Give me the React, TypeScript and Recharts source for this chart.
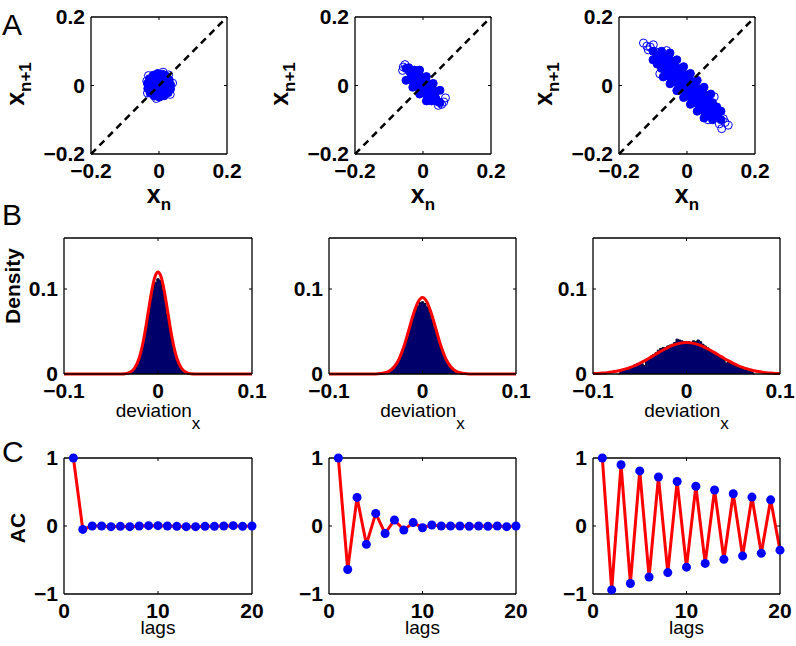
import React from "react";
import { Area, ComposedChart, Label, Line, ReferenceLine, Scatter, XAxis, YAxis } from "recharts";

const W = 796;
const H = 646;

// ---- row A: x(n+1) against x(n). "core" points are drawn filled, "ring" points (outliers) open
const coreA1 = [
  [0, 0], [0.015, 0], [-0.015, 0], [0, 0.015], [0, -0.015],
  [0.011, 0.011], [-0.011, 0.011], [0.011, -0.011], [-0.011, -0.011],
  [0.026, 0.005], [-0.026, -0.004], [0.005, 0.026], [-0.004, -0.026],
  [0.02, 0.017], [-0.019, 0.018], [0.018, -0.02], [-0.02, -0.017],
  [0.034, 0.002], [0.03, 0.016], [0.022, 0.027], [0.01, 0.033], [-0.004, 0.035],
  [-0.017, 0.03], [-0.028, 0.02], [-0.034, 0.006], [-0.033, -0.009], [-0.026, -0.022],
  [-0.014, -0.031], [0.001, -0.034], [0.015, -0.03], [0.027, -0.021], [0.034, -0.01],
];
const ringA1 = [
  [0.04, 0.007], [-0.036, 0.013], [0.012, 0.039], [-0.008, -0.038], [0.033, -0.026],
  [-0.031, 0.029], [0.028, 0.031], [-0.034, -0.022],
];
const coreA2 = [
  [-0.05, 0.05], [-0.0375, 0.0375], [-0.025, 0.025], [-0.0125, 0.0125], [0, 0],
  [0.0125, -0.0125], [0.025, -0.025], [0.0375, -0.0375], [0.05, -0.05],
  [-0.025, 0.045], [-0.0125, 0.0325], [0, 0.02], [0.0125, 0.0075], [0.025, -0.005], [0.0375, -0.0175],
  [-0.0375, 0.0175], [-0.025, 0.005], [-0.0125, -0.0075], [0, -0.02], [0.0125, -0.0325], [0.025, -0.045],
  [-0.01, 0.045], [0.01, 0.026], [0.03, 0.006], [0.05, -0.014],
  [-0.05, 0.015], [-0.03, -0.005], [-0.01, -0.025], [0.01, -0.045],
  [-0.035, 0.035], [0.035, -0.033], [-0.042, 0.052], [0.045, -0.048],
];
const ringA2 = [
  [-0.053, 0.061], [-0.06, 0.044], [-0.058, 0.054],
  [0.061, -0.048], [0.045, -0.058], [0.066, -0.036], [0.055, -0.055],
];
const coreA3 = [
  [-0.1, 0.1], [-0.0875, 0.0875], [-0.075, 0.075], [-0.0625, 0.0625], [-0.05, 0.05],
  [-0.0375, 0.0375], [-0.025, 0.025], [-0.0125, 0.0125], [0, 0], [0.0125, -0.0125],
  [0.025, -0.025], [0.0375, -0.0375], [0.05, -0.05], [0.0625, -0.0625], [0.075, -0.075],
  [0.0875, -0.0875], [0.1, -0.1],
  [-0.075, 0.1], [-0.0625, 0.0875], [-0.05, 0.075], [-0.0375, 0.0625], [-0.025, 0.05],
  [-0.0125, 0.0375], [0, 0.025], [0.0125, 0.0125], [0.025, 0], [0.0375, -0.0125],
  [0.05, -0.025], [0.0625, -0.0375], [0.075, -0.05], [0.0875, -0.0625], [0.1, -0.075],
  [-0.1, 0.075], [-0.0875, 0.0625], [-0.075, 0.05], [-0.0625, 0.0375], [-0.05, 0.025],
  [-0.0375, 0.0125], [-0.025, 0], [-0.0125, -0.0125], [0, -0.025], [0.0125, -0.0375],
  [0.025, -0.05], [0.0375, -0.0625], [0.05, -0.075], [0.0625, -0.0875], [0.075, -0.1],
  [-0.05, 0.095], [-0.03, 0.075], [-0.01, 0.055], [0.01, 0.035], [0.03, 0.015], [0.05, -0.005], [0.07, -0.025],
  [-0.07, 0.025], [-0.05, 0.005], [-0.03, -0.015], [-0.01, -0.035], [0.01, -0.055], [0.03, -0.075], [0.05, -0.095],
];
const ringA3 = [
  [-0.128, 0.124], [-0.099, 0.119], [-0.114, 0.104], [-0.094, 0.099], [-0.108, 0.112], [-0.118, 0.115],
  [0.107, -0.097], [0.102, -0.126], [0.121, -0.116], [0.086, -0.087], [0.112, -0.108], [0.095, -0.112],
  [-0.06, 0.102], [0.08, -0.033], [-0.08, 0.034], [0.062, -0.1],
];
const diagonal = [[-0.2, -0.2], [0.2, 0.2]];

// ---- row B: histogram bins [centre, density] and fitted curve [x, density]
const histB1 = [
  [-0.0325, 0], [-0.03, 0.001], [-0.0275, 0.003], [-0.025, 0.006], [-0.0225, 0.011], [-0.02, 0.017],
  [-0.0175, 0.027], [-0.015, 0.04], [-0.0125, 0.055], [-0.01, 0.071], [-0.0075, 0.088], [-0.005, 0.101],
  [-0.0025, 0.108], [0, 0.112], [0.0025, 0.11], [0.005, 0.1], [0.0075, 0.087], [0.01, 0.07],
  [0.0125, 0.054], [0.015, 0.039], [0.0175, 0.026], [0.02, 0.017], [0.0225, 0.01], [0.025, 0.005],
  [0.0275, 0.003], [0.03, 0.001], [0.0325, 0],
];
const fitB1 = [
  [-0.1, 0], [-0.045, 0], [-0.04, 0.0001], [-0.035, 0.0004], [-0.03, 0.0019], [-0.025, 0.0067],
  [-0.02, 0.0189], [-0.0175, 0.0291], [-0.015, 0.0424], [-0.0125, 0.0583], [-0.01, 0.0756],
  [-0.0075, 0.0925], [-0.005, 0.107], [-0.0025, 0.1166], [0, 0.12], [0.0025, 0.1166], [0.005, 0.107],
  [0.0075, 0.0925], [0.01, 0.0756], [0.0125, 0.0583], [0.015, 0.0424], [0.0175, 0.0291], [0.02, 0.0189],
  [0.025, 0.0067], [0.03, 0.0019], [0.035, 0.0004], [0.04, 0.0001], [0.045, 0], [0.1, 0],
];
const histB2 = [
  [-0.0425, 0], [-0.04, 0.001], [-0.0375, 0.002], [-0.035, 0.003], [-0.0325, 0.005], [-0.03, 0.008],
  [-0.0275, 0.012], [-0.025, 0.017], [-0.0225, 0.023], [-0.02, 0.03], [-0.0175, 0.038], [-0.015, 0.047],
  [-0.0125, 0.057], [-0.01, 0.066], [-0.0075, 0.074], [-0.005, 0.08], [-0.0025, 0.084], [0, 0.085],
  [0.0025, 0.083], [0.005, 0.079], [0.0075, 0.073], [0.01, 0.065], [0.0125, 0.056], [0.015, 0.048],
  [0.0175, 0.038], [0.02, 0.03], [0.0225, 0.022], [0.025, 0.016], [0.0275, 0.011], [0.03, 0.008],
  [0.0325, 0.005], [0.035, 0.003], [0.0375, 0.002], [0.04, 0.001], [0.0425, 0],
];
const fitB2 = [
  [-0.1, 0], [-0.055, 0], [-0.05, 0.0001], [-0.045, 0.0005], [-0.04, 0.0014], [-0.035, 0.0038],
  [-0.03, 0.0088], [-0.025, 0.0179], [-0.02, 0.032], [-0.015, 0.0503], [-0.01, 0.0695], [-0.005, 0.0843],
  [0, 0.09], [0.005, 0.0843], [0.01, 0.0695], [0.015, 0.0503], [0.02, 0.032], [0.025, 0.0179],
  [0.03, 0.0088], [0.035, 0.0038], [0.04, 0.0014], [0.045, 0.0005], [0.05, 0.0001], [0.055, 0], [0.1, 0],
];
const histB3 = [
  [-0.0725, 0], [-0.07, 0.004], [-0.0675, 0.005], [-0.065, 0.006], [-0.0625, 0.006], [-0.06, 0.008],
  [-0.0575, 0.009], [-0.055, 0.011], [-0.0525, 0.012], [-0.05, 0.013], [-0.0475, 0.012], [-0.045, 0.01],
  [-0.0425, 0.016], [-0.04, 0.019], [-0.0375, 0.021], [-0.035, 0.023], [-0.0325, 0.025], [-0.03, 0.028],
  [-0.0275, 0.03], [-0.025, 0.031], [-0.0225, 0.031], [-0.02, 0.033], [-0.0175, 0.034], [-0.015, 0.035],
  [-0.0125, 0.037], [-0.01, 0.041], [-0.0075, 0.04], [-0.005, 0.039], [-0.0025, 0.038], [0, 0.037],
  [0.0025, 0.038], [0.005, 0.036], [0.0075, 0.039], [0.01, 0.038], [0.0125, 0.04], [0.015, 0.038],
  [0.0175, 0.035], [0.02, 0.033], [0.0225, 0.031], [0.025, 0.027], [0.0275, 0.025], [0.03, 0.024],
  [0.0325, 0.022], [0.035, 0.021], [0.0375, 0.019], [0.04, 0.017], [0.0425, 0.013], [0.045, 0.014],
  [0.0475, 0.012], [0.05, 0.011], [0.0525, 0.01], [0.055, 0.008], [0.0575, 0.007], [0.06, 0.006],
  [0.0625, 0.005], [0.065, 0.004], [0.0675, 0.003], [0.07, 0.003], [0.0725, 0],
];
const fitB3 = [
  [-0.1, 0.0005], [-0.095, 0.0007], [-0.09, 0.0011], [-0.085, 0.0016], [-0.08, 0.0023], [-0.075, 0.0032],
  [-0.07, 0.0044], [-0.065, 0.006], [-0.06, 0.0078], [-0.055, 0.01], [-0.05, 0.0126], [-0.045, 0.0154],
  [-0.04, 0.0185], [-0.035, 0.0218], [-0.03, 0.0251], [-0.025, 0.0282], [-0.02, 0.0311], [-0.015, 0.0336],
  [-0.01, 0.0354], [-0.005, 0.0366], [0, 0.037], [0.005, 0.0366], [0.01, 0.0354], [0.015, 0.0336],
  [0.02, 0.0311], [0.025, 0.0282], [0.03, 0.0251], [0.035, 0.0218], [0.04, 0.0185], [0.045, 0.0154],
  [0.05, 0.0126], [0.055, 0.01], [0.06, 0.0078], [0.065, 0.006], [0.07, 0.0044], [0.075, 0.0032],
  [0.08, 0.0023], [0.085, 0.0016], [0.09, 0.0011], [0.095, 0.0007], [0.1, 0.0005],
];

// ---- row C: autocorrelation by lag
const lags = [1, 2, 3, 4, 5, 6, 7, 8, 9, 10, 11, 12, 13, 14, 15, 16, 17, 18, 19, 20];
const acC1 = [1, -0.05, 0, 0, -0.01, -0.005, -0.01, 0, 0.005, 0.005, 0, -0.005, -0.01, -0.01, -0.005, -0.005, 0, 0.005, -0.005, 0];
const acC2 = [1, -0.64, 0.42, -0.27, 0.185, -0.11, 0.088, -0.06, 0.05, -0.025, 0.015, 0, 0, 0, -0.005, 0, -0.005, 0, -0.01, 0];
const acC3 = [1, -0.94, 0.9, -0.845, 0.81, -0.75, 0.72, -0.685, 0.655, -0.605, 0.585, -0.55, 0.53, -0.49, 0.475, -0.44, 0.425, -0.4, 0.385, -0.355];

// ---- axes
const scatterTicks = [-0.2, 0, 0.2];
const histXTicks = [-0.1, 0, 0.1];
const histYTicks = [0, 0.1];
const lagTicks = [0, 10, 20];
const acTicks = [-1, 0, 1];

type Box = { left: number; top: number; width: number; height: number };

const colLeftA = [91, 355, 619];
const colLeftBC = [64, 329, 593];
const widthBC = [188, 187, 187];

const BLUE = "#0000ff";
const RED = "#ff0000";
const SANS = "Liberation Sans, Arial, sans-serif";

const pts = (a: number[][]) => a.map(([x, y]) => ({ x, y }));
const fmt = (v: number) => (v < 0 ? "\u2212" + Math.abs(v) : String(v));
const tickStyle = { fontFamily: SANS, fontWeight: 700, fontSize: 21, fill: "#000" };

const fillDot = (p: any) => <circle cx={p.cx} cy={p.cy} r={4} fill={BLUE} stroke={BLUE} strokeWidth={1} />;
const ringDot = (p: any) => <circle cx={p.cx} cy={p.cy} r={4} fill="none" stroke={BLUE} strokeWidth={1} />;

// top/right box sides plus inward ticks on all four sides (matlab style)
function frame(xd: number[], yd: number[], xt: number[], yt: number[], box: Box) {
  const lx = (3 / box.width) * (xd[1] - xd[0]);
  const ly = (3 / box.height) * (yd[1] - yd[0]);
  const out = [
    <ReferenceLine key="top" y={yd[1]} stroke="#000" strokeWidth={1.3} />,
    <ReferenceLine key="right" x={xd[1]} stroke="#000" strokeWidth={1.3} />,
  ];
  xt.filter((v) => v > xd[0] && v < xd[1]).forEach((v) => {
    out.push(<ReferenceLine key={"xb" + v} segment={[{ x: v, y: yd[0] }, { x: v, y: yd[0] + ly }]} stroke="#000" />);
    out.push(<ReferenceLine key={"xt" + v} segment={[{ x: v, y: yd[1] }, { x: v, y: yd[1] - ly }]} stroke="#000" />);
  });
  yt.filter((v) => v > yd[0] && v < yd[1]).forEach((v) => {
    out.push(<ReferenceLine key={"yl" + v} segment={[{ x: xd[0], y: v }, { x: xd[0] + lx, y: v }]} stroke="#000" />);
    out.push(<ReferenceLine key={"yr" + v} segment={[{ x: xd[1], y: v }, { x: xd[1] - lx, y: v }]} stroke="#000" />);
  });
  return out;
}

interface PanelProps {
  box: Box;
  xd: number[];
  yd: number[];
  xt: number[];
  yt: number[];
  labels: React.ReactNode;
  children: React.ReactNode;
}

// every panel is a full-page chart whose plot area is placed with the margins
function Panel({ box, xd, yd, xt, yt, labels, children }: PanelProps) {
  const margin = {
    left: box.left - 40,
    top: box.top,
    right: W - box.left - box.width,
    bottom: H - box.top - box.height - 30,
  };
  return (
    <div style={{ position: "absolute", left: 0, top: 0 }}>
      <ComposedChart width={W} height={H} margin={margin}>
        <XAxis
          type="number"
          dataKey="x"
          domain={xd}
          ticks={xt}
          interval={0}
          tickFormatter={fmt}
          tickSize={0}
          tickMargin={9}
          tickLine={false}
          height={30}
          axisLine={{ stroke: "#000", strokeWidth: 1.3 }}
          tick={tickStyle}
        >
          <Label content={() => <g>{labels}</g>} />
        </XAxis>
        <YAxis
          type="number"
          dataKey="y"
          domain={yd}
          ticks={yt}
          interval={0}
          tickFormatter={fmt}
          tickSize={0}
          tickMargin={6}
          tickLine={false}
          width={40}
          axisLine={{ stroke: "#000", strokeWidth: 1.3 }}
          tick={tickStyle}
        />
        {children}
        {frame(xd, yd, xt, yt, box)}
      </ComposedChart>
    </div>
  );
}

const letter = (s: string, y: number) => (
  <text x={2} y={y} fontFamily={SANS} fontSize={30} fill="#000">
    {s}
  </text>
);

const rowA = [
  { core: coreA1, ring: ringA1 },
  { core: coreA2, ring: ringA2 },
  { core: coreA3, ring: ringA3 },
];
const rowB = [
  { hist: histB1, fit: fitB1 },
  { hist: histB2, fit: fitB2 },
  { hist: histB3, fit: fitB3 },
];
const rowC = [acC1, acC2, acC3];

export default function App() {
  return (
    <div style={{ position: "absolute", left: 0, top: 0, width: W, height: H, background: "#fff" }}>
      {rowA.map((p, i) => {
        const box = { left: colLeftA[i], top: 17, width: 136, height: 137 };
        const cx = box.left + box.width / 2;
        const labels = (
          <>
            {i === 0 && letter("A", 35)}
            <text x={cx} y={203} textAnchor="middle" fontFamily={SANS} fontWeight={700} fontSize={25} fill="#000">
              x<tspan dy={7} fontSize={17}>n</tspan>
            </text>
            <text
              transform={`translate(${box.left - 67},${84}) rotate(-90)`}
              textAnchor="middle"
              fontFamily={SANS}
              fontWeight={700}
              fontSize={25}
              fill="#000"
            >
              x<tspan dy={7} fontSize={17}>n+1</tspan>
            </text>
          </>
        );
        return (
          <Panel key={"a" + i} box={box} xd={[-0.2, 0.2]} yd={[-0.2, 0.2]} xt={scatterTicks} yt={scatterTicks} labels={labels}>
            <Scatter data={pts(p.core)} shape={fillDot} isAnimationActive={false} />
            <Scatter data={pts(p.ring)} shape={ringDot} isAnimationActive={false} />
            <ReferenceLine
              segment={pts(diagonal)}
              stroke="#000"
              strokeWidth={2.5}
              strokeDasharray="7 5"
              zIndex={700}
            />
          </Panel>
        );
      })}
      {rowB.map((p, i) => {
        const box = { left: colLeftBC[i], top: 238, width: widthBC[i], height: 136 };
        const cx = box.left + box.width / 2;
        const labels = (
          <>
            {i === 0 && letter("B", 225)}
            {i === 0 && (
              <text transform="translate(20,286) rotate(-90)" textAnchor="middle" fontFamily={SANS} fontWeight={700} fontSize={21} fill="#000">
                Density
              </text>
            )}
            <text x={cx} y={417} textAnchor="middle" fontFamily={SANS} fontSize={19} fill="#000">
              deviation<tspan dy={12} fontSize={17}>x</tspan>
            </text>
          </>
        );
        return (
          <Panel key={"b" + i} box={box} xd={[-0.1, 0.1]} yd={[0, 0.16]} xt={histXTicks} yt={histYTicks} labels={labels}>
            <Area
              data={pts(p.hist)}
              dataKey="y"
              type="step"
              fill="#00006b"
              fillOpacity={1}
              stroke="#00002a"
              strokeWidth={1}
              isAnimationActive={false}
            />
            <Line data={pts(p.fit)} dataKey="y" type="monotone" stroke={RED} strokeWidth={3} dot={false} isAnimationActive={false} />
          </Panel>
        );
      })}
      {rowC.map((ac, i) => {
        const box = { left: colLeftBC[i], top: 458, width: widthBC[i], height: 136 };
        const cx = box.left + box.width / 2;
        const data = lags.map((l, k) => ({ x: l, y: ac[k] }));
        const labels = (
          <>
            {i === 0 && letter("C", 462)}
            {i === 0 && (
              <text transform="translate(25,528) rotate(-90)" textAnchor="middle" fontFamily={SANS} fontWeight={700} fontSize={21} fill="#000">
                AC
              </text>
            )}
            <text x={cx} y={634} textAnchor="middle" fontFamily={SANS} fontSize={19} fill="#000">
              lags
            </text>
          </>
        );
        return (
          <Panel key={"c" + i} box={box} xd={[0, 20]} yd={[-1, 1]} xt={lagTicks} yt={acTicks} labels={labels}>
            <Line
              data={data}
              dataKey="y"
              type="linear"
              stroke={RED}
              strokeWidth={3}
              dot={{ r: 4.5, fill: BLUE, stroke: BLUE, strokeWidth: 0 }}
              isAnimationActive={false}
            />
          </Panel>
        );
      })}
    </div>
  );
}
